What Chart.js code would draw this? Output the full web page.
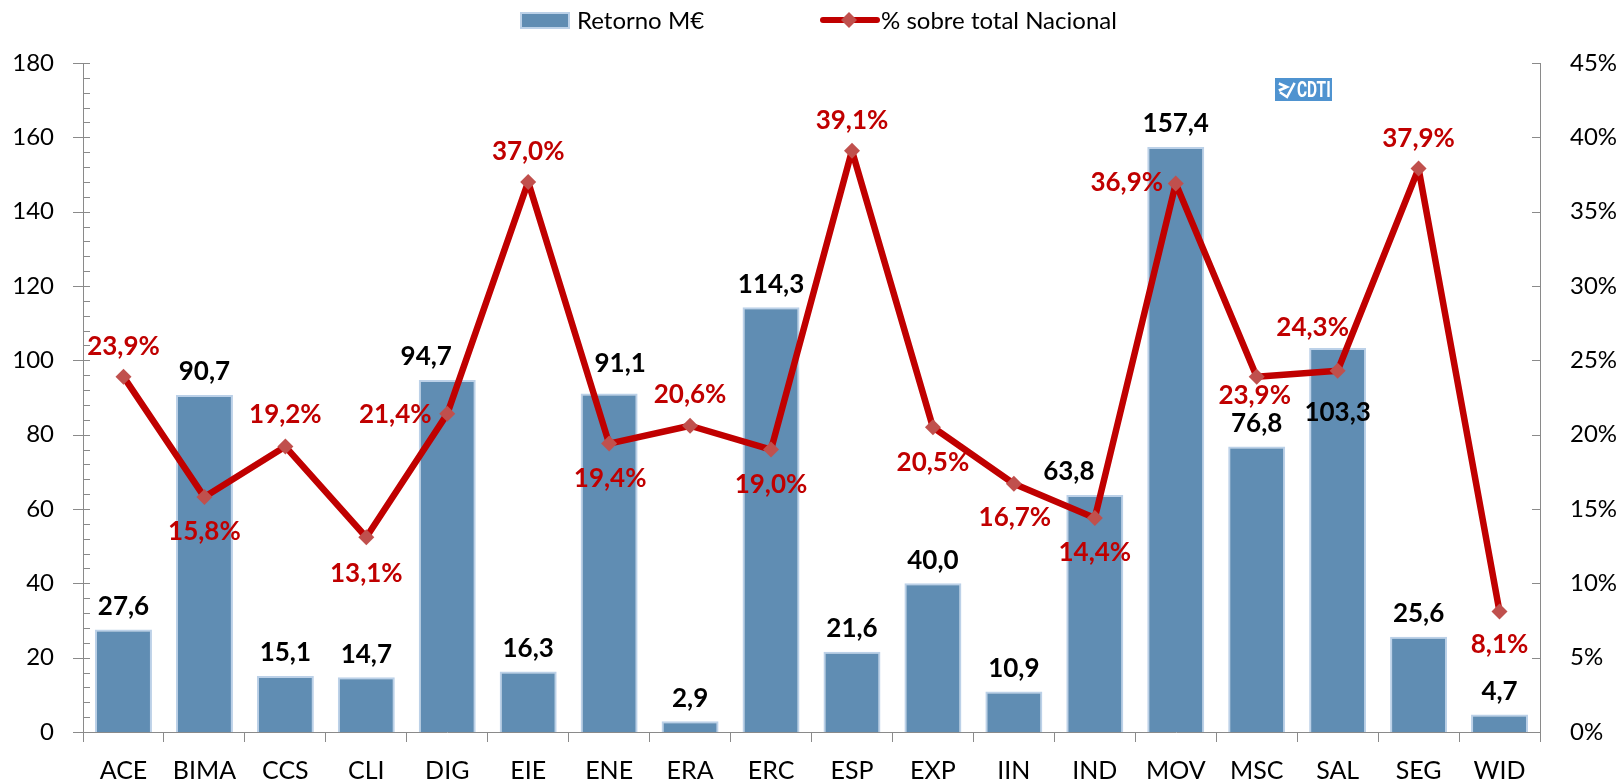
<!DOCTYPE html>
<html>
<head>
<meta charset="utf-8">
<title>Retorno por temática</title>
<script src="https://cdn.jsdelivr.net/npm/chart.js@4"></script>
<style>
  html, body { margin: 0; padding: 0; background: #ffffff; }
  canvas { display: block; }
</style>
</head>
<body>
<canvas id="chart" width="1623" height="783"></canvas>
<script>
// Programme areas
const categories = ['ACE', 'BIMA', 'CCS', 'CLI', 'DIG', 'EIE', 'ENE', 'ERA', 'ERC',
                    'ESP', 'EXP', 'IIN', 'IND', 'MOV', 'MSC', 'SAL', 'SEG', 'WID'];

// Return obtained, million euros
const retornoMEur = [27.6, 90.7, 15.1, 14.7, 94.7, 16.3, 91.1, 2.9, 114.3,
                     21.6, 40.0, 10.9, 63.8, 157.4, 76.8, 103.3, 25.6, 4.7];

// Share over the national total, %
const pctNacional = [23.9, 15.8, 19.2, 13.1, 21.4, 37.0, 19.4, 20.6, 19.0,
                     39.1, 20.5, 16.7, 14.4, 36.9, 23.9, 24.3, 37.9, 8.1];

// Axis ranges and tick steps
const leftAxis  = { min: 0, max: 180, step: 20, minorStep: 4 };
const rightAxis = { min: 0, max: 45, step: 5 };

// Label placement nudges in px: [dx, dy]
// bar values sit 23px above the bar top by default
const barLabelShift = [[0,0],[0,0],[0,0],[0,0],[-21,0],[0,0],[11,-7],[0,0],[0,0],
                       [0,0],[0,0],[0,0],[-26,0],[0,0],[0,0],[0,88],[0,0],[0,0]];
// percentage labels relative to their marker
const pctLabelShift = [[0,-30],[0,35],[0,-32],[0,36],[-52,1],[0,-30],[1,35],[0,-31],[0,35],
                       [0,-30],[0,35],[1,34],[0,35],[-49,-1],[-2,19],[-25,-43],[0,-30],[0,33]];

const BAR_FILL = '#608db3';
const BAR_EDGE = '#bcd1e8';
const LINE_RED = '#c00000';
const MARK_RED = '#c0504d';
const AXIS_GREY = '#8a8a8a';
const FONT = 'Lato, "Open Sans", sans-serif';

const fmt = v => v.toFixed(1).replace('.', ',');

// Minor/inner tick marks on both value axes
const axisMarks = {
  id: 'axisMarks',
  beforeDatasetsDraw(chart) {
    const ctx = chart.ctx;
    const yl = chart.scales.y, yr = chart.scales.y2;
    const xl = chart.chartArea.left, xr = chart.chartArea.right;
    ctx.save();
    ctx.strokeStyle = AXIS_GREY;
    ctx.lineWidth = 1;
    ctx.beginPath();
    for (let v = leftAxis.min; v <= leftAxis.max; v += leftAxis.minorStep) {
      const y = Math.round(yl.getPixelForValue(v)) + 0.5;
      const major = v % leftAxis.step === 0;
      ctx.moveTo(major ? xl - 10 : xl, y);
      ctx.lineTo(xl + 7, y);
    }
    for (let v = rightAxis.min; v <= rightAxis.max; v += rightAxis.step) {
      const y = Math.round(yr.getPixelForValue(v)) + 0.5;
      ctx.moveTo(xr - 8, y);
      ctx.lineTo(xr, y);
    }
    ctx.stroke();
    ctx.restore();
  }
};

// Value labels for bars and line markers
const valueLabels = {
  id: 'valueLabels',
  afterDatasetsDraw(chart) {
    const ctx = chart.ctx;
    const lineMeta = chart.getDatasetMeta(0);
    const barMeta = chart.getDatasetMeta(1);
    ctx.save();
    ctx.textAlign = 'center';
    ctx.textBaseline = 'middle';
    ctx.font = 'bold 26px ' + FONT;
    ctx.fillStyle = '#000000';
    barMeta.data.forEach((bar, i) => {
      const [dx, dy] = barLabelShift[i];
      ctx.fillText(fmt(retornoMEur[i]), bar.x + dx, bar.y - 23 + dy);
    });
    ctx.fillStyle = LINE_RED;
    lineMeta.data.forEach((pt, i) => {
      const [dx, dy] = pctLabelShift[i];
      ctx.fillText(fmt(pctNacional[i]) + '%', pt.x + dx, pt.y + dy);
    });
    ctx.restore();
  }
};

// Legend row and the agency badge
const header = {
  id: 'header',
  afterDraw(chart) {
    const ctx = chart.ctx;
    const datasets = chart.data.datasets;
    ctx.save();
    ctx.font = '24px ' + FONT;
    ctx.textBaseline = 'middle';
    ctx.textAlign = 'left';

    // bar entry
    ctx.fillStyle = BAR_FILL;
    ctx.fillRect(520, 12, 50, 17);
    ctx.strokeStyle = BAR_EDGE;
    ctx.lineWidth = 2;
    ctx.strokeRect(521, 13, 48, 15);
    ctx.fillStyle = '#000000';
    ctx.fillText(datasets[1].label, 577, 21);

    // line entry
    ctx.strokeStyle = LINE_RED;
    ctx.lineWidth = 6;
    ctx.lineCap = 'round';
    ctx.beginPath();
    ctx.moveTo(823, 20);
    ctx.lineTo(877, 20);
    ctx.stroke();
    ctx.fillStyle = MARK_RED;
    ctx.beginPath();
    ctx.moveTo(849, 12); ctx.lineTo(857, 20); ctx.lineTo(849, 28); ctx.lineTo(841, 20);
    ctx.closePath();
    ctx.fill();
    ctx.fillStyle = '#000000';
    ctx.fillText(datasets[0].label, 881, 21);

    // CDTI badge
    ctx.fillStyle = '#4f93d0';
    ctx.fillRect(1275, 78, 57, 23);
    ctx.strokeStyle = '#ffffff';
    ctx.lineWidth = 2.5;
    ctx.lineCap = 'square';
    ctx.beginPath();
    ctx.moveTo(1280, 84); ctx.lineTo(1287, 87); ctx.lineTo(1280, 90);
    ctx.moveTo(1281, 93); ctx.lineTo(1287, 97); ctx.lineTo(1294, 84);
    ctx.stroke();
    ctx.translate(1297, 90);
    ctx.scale(0.7, 1);
    ctx.fillStyle = '#ffffff';
    ctx.font = 'bold 22px Roboto, sans-serif';
    ctx.fillText('CDTI', 0, 1);
    ctx.restore();
  }
};

new Chart(document.getElementById('chart'), {
  data: {
    labels: categories,
    datasets: [
      {
        type: 'line',
        label: '% sobre total Nacional',
        data: pctNacional,
        yAxisID: 'y2',
        order: 0,
        borderColor: LINE_RED,
        borderWidth: 6.5,
        borderJoinStyle: 'round',
        borderCapStyle: 'round',
        tension: 0,
        pointStyle: 'rectRot',
        pointRadius: 8,
        pointHoverRadius: 8,
        pointBackgroundColor: MARK_RED,
        pointBorderColor: MARK_RED,
        pointBorderWidth: 0
      },
      {
        type: 'bar',
        label: 'Retorno M€',
        data: retornoMEur,
        yAxisID: 'y',
        order: 1,
        backgroundColor: BAR_FILL,
        borderColor: BAR_EDGE,
        borderWidth: 2,
        barPercentage: 0.704,
        categoryPercentage: 1
      }
    ]
  },
  options: {
    responsive: false,
    animation: false,
    devicePixelRatio: 1,
    layout: { padding: { top: 63, left: 0, right: 0, bottom: 0 } },
    plugins: { legend: { display: false }, tooltip: { enabled: false } },
    scales: {
      x: {
        grid: { offset: true, drawOnChartArea: false, drawTicks: true, tickLength: 10, color: AXIS_GREY },
        border: { display: true, color: AXIS_GREY, width: 1 },
        ticks: { font: { family: FONT, size: 25 }, color: '#000000', padding: 14, maxRotation: 0, autoSkip: false },
        afterFit(scale) { scale.height = 51; }
      },
      y: {
        position: 'left',
        min: leftAxis.min,
        max: leftAxis.max,
        grid: { display: false, drawTicks: false },
        border: { display: true, color: AXIS_GREY, width: 1 },
        ticks: { stepSize: leftAxis.step, font: { family: FONT, size: 24 }, color: '#000000', padding: 29 },
        afterFit(scale) { scale.width = 83; }
      },
      y2: {
        position: 'right',
        min: rightAxis.min,
        max: rightAxis.max,
        grid: { display: false, drawTicks: false },
        border: { display: true, color: AXIS_GREY, width: 1 },
        ticks: { stepSize: rightAxis.step, font: { family: FONT, size: 24 }, color: '#000000', padding: 30,
                 callback: v => v + '%' },
        afterFit(scale) { scale.width = 83; }
      }
    }
  },
  plugins: [axisMarks, valueLabels, header]
});
</script>
</body>
</html>
